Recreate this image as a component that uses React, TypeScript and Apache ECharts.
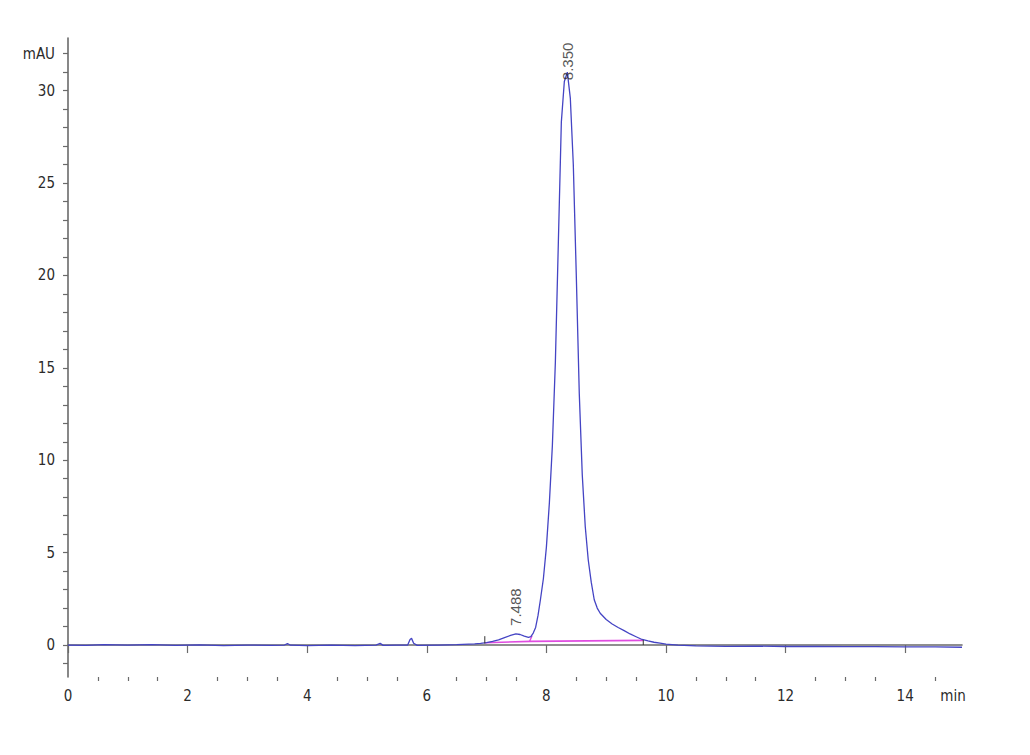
import React, { useEffect, useRef } from "react";
import * as echarts from "echarts";

// Chromatogram trace (time in min, signal in mAU)
const baselineTrace: [number, number][] = [
  [0, 0.0], [0.3, -0.02], [0.6, 0.02], [1.0, 0.0], [1.4, 0.02], [1.8, -0.02],
  [2.2, 0.01], [2.6, -0.03], [3.0, 0.0], [3.4, -0.02], [3.62, 0.0], [3.67, 0.08],
  [3.72, -0.01], [4.0, -0.03], [4.4, 0.0], [4.8, -0.03], [5.15, 0.0], [5.22, 0.09],
  [5.27, -0.02], [5.5, 0.0], [5.68, 0.0], [5.72, 0.3], [5.745, 0.36], [5.78, 0.1],
  [5.84, -0.02], [6.2, 0.0], [6.5, 0.02], [6.8, 0.06],
];
const minorPeakTrace: [number, number][] = [
  [6.9, 0.09], [7.0, 0.13], [7.1, 0.2], [7.2, 0.28], [7.3, 0.4], [7.4, 0.52],
  [7.49, 0.6], [7.56, 0.57], [7.63, 0.48], [7.7, 0.42], [7.74, 0.46],
];
const mainPeakTrace: [number, number][] = [
  [7.78, 0.65], [7.82, 0.95], [7.86, 1.6], [7.9, 2.45], [7.95, 3.6], [8.0, 5.3],
  [8.05, 7.7], [8.1, 10.8], [8.15, 15.3], [8.2, 21.8], [8.25, 28.3], [8.3, 30.5],
  [8.35, 31.0], [8.4, 29.6], [8.45, 26.0], [8.5, 20.0], [8.55, 13.6], [8.6, 9.2],
  [8.65, 6.4], [8.7, 4.6], [8.75, 3.4], [8.8, 2.45], [8.85, 2.0], [8.9, 1.72],
  [9.0, 1.38], [9.1, 1.14], [9.2, 0.95], [9.3, 0.78], [9.4, 0.6], [9.5, 0.45],
  [9.6, 0.3], [9.7, 0.22], [9.8, 0.15], [9.9, 0.1], [10.0, 0.05],
];
const tailTrace: [number, number][] = [
  [10.2, 0.0], [10.5, -0.05], [11.0, -0.07], [11.5, -0.06], [12.0, -0.08],
  [12.5, -0.07], [13.0, -0.09], [13.5, -0.09], [14.0, -0.1], [14.5, -0.1], [14.95, -0.12],
];

// Integration baseline and integration event ticks
const integrationBaseline: [number, number][] = [[6.97, 0.12], [7.73, 0.2], [9.62, 0.25]];
const integrationDrop: [number, number][] = [[7.72, 0.2], [7.76, 0.5]];
const integrationTicks: [number, number, number][] = [[6.97, 0.08, 0.48], [9.62, 0.0, 0.28]];

// Peak labels
const peakTimes = [7.488, 8.35];
const peakHeights = [0.6, 31.0];
const peakNames = ["7.488", "8.350"];
const peakLabelGaps = [8, -8];

// Axes
const xMin = 0;
const xMax = 14.95;
const yMin = -1.73;
const yMax = 32.85;
const xMajorTicks = [0, 2, 4, 6, 8, 10, 12, 14];
const xMinorTicks = [0.5, 1, 1.5, 2.5, 3, 3.5, 4.5, 5, 5.5, 6.5, 7, 7.5, 8.5, 9, 9.5, 10.5, 11, 11.5, 12.5, 13, 13.5, 14.5];
const xUnitPos = 14.8;
const xUnit = "min";
const yLabelValues = [0, 5, 10, 15, 20, 25, 30, 32];
const yUnitPos = 32;
const yUnit = "mAU";
const yTicks = [-1, 0, 1, 2, 3, 4, 5, 6, 7, 8, 9, 10, 11, 12, 13, 14, 15, 16, 17, 18, 19, 20, 21, 22, 23, 24, 25, 26, 27, 28, 29, 30, 31, 32];

const AXIS_COLOR = "#6a6a6a";
const TEXT_COLOR = "#2b2b2b";
const NARROW = "'Liberation Sans Narrow', 'DejaVu Sans Condensed', 'Liberation Sans', Arial, sans-serif";

export default function App() {
  const ref = useRef<HTMLDivElement>(null);

  useEffect(() => {
    if (!ref.current) return;
    const chart = echarts.init(ref.current, undefined, { renderer: "svg" });
    const trace = [...baselineTrace, ...minorPeakTrace, ...mainPeakTrace, ...tailTrace];

    const tickSeries = integrationTicks.map(([t, v0, v1]) => ({
      type: "line",
      data: [[t, v0], [t, v1]],
      symbol: "none",
      lineStyle: { color: "#333", width: 1 },
      silent: true,
      z: 4,
    }));

    chart.setOption({
      animation: false,
      backgroundColor: "#ffffff",
      grid: { left: 68, right: 68, top: 38, bottom: 78, containLabel: false, outerBoundsMode: "none" },
      xAxis: [
        {
          type: "value",
          min: xMin,
          max: xMax,
          axisLine: { show: true, lineStyle: { color: AXIS_COLOR, width: 1.6 } },
          axisTick: { show: true, customValues: xMajorTicks, length: 8, lineStyle: { color: AXIS_COLOR, width: 1.2 } },
          axisLabel: {
            show: true,
            customValues: [...xMajorTicks, xUnitPos],
            margin: 11,
            fontSize: 15,
            fontFamily: NARROW,
            color: TEXT_COLOR,
            formatter: (v: number) => (Math.abs(v - xUnitPos) < 1e-6 ? xUnit : String(v)),
          },
          splitLine: { show: false },
        },
        {
          type: "value",
          position: "bottom",
          min: xMin,
          max: xMax,
          axisLine: { show: false },
          axisTick: { show: true, customValues: xMinorTicks, length: 4, lineStyle: { color: AXIS_COLOR, width: 1.2 } },
          axisLabel: { show: false },
          splitLine: { show: false },
        },
      ],
      yAxis: {
        type: "value",
        min: yMin,
        max: yMax,
        axisLine: { show: true, lineStyle: { color: AXIS_COLOR, width: 1.6 } },
        axisTick: { show: true, customValues: yTicks, length: 5, lineStyle: { color: AXIS_COLOR, width: 1.2 } },
        axisLabel: {
          show: true,
          customValues: yLabelValues,
          margin: 13,
          fontSize: 15,
          fontFamily: NARROW,
          color: TEXT_COLOR,
          formatter: (v: number) => (Math.abs(v - yUnitPos) < 1e-6 ? yUnit : String(v)),
        },
        splitLine: { show: false },
      },
      series: [
        {
          type: "line",
          data: integrationBaseline,
          symbol: "none",
          lineStyle: { color: "#e04ce0", width: 1.6 },
          silent: true,
          z: 2,
        },
        {
          type: "line",
          data: integrationDrop,
          symbol: "none",
          lineStyle: { color: "#e04ce0", width: 1.4 },
          silent: true,
          z: 2,
        },
        {
          type: "line",
          data: trace,
          symbol: "none",
          lineStyle: { color: "#4444c4", width: 1.3 },
          silent: true,
          z: 3,
        },
        ...tickSeries,
        {
          type: "scatter",
          symbolSize: 0,
          silent: true,
          z: 5,
          data: peakTimes.map((t, i) => ({
            value: [t, peakHeights[i]],
            label: {
              show: true,
              formatter: peakNames[i],
              position: "top",
              distance: peakLabelGaps[i],
              rotate: 90,
              align: "left",
              verticalAlign: "middle",
              fontSize: 15,
              fontFamily: "'Liberation Sans', Arial, sans-serif",
              color: TEXT_COLOR,
            },
          })),
        },
      ],
    });

    return () => chart.dispose();
  }, []);

  return (
    <div
      ref={ref}
      style={{ position: "fixed", left: 0, top: 0, width: 1030, height: 755, background: "#ffffff" }}
    />
  );
}
